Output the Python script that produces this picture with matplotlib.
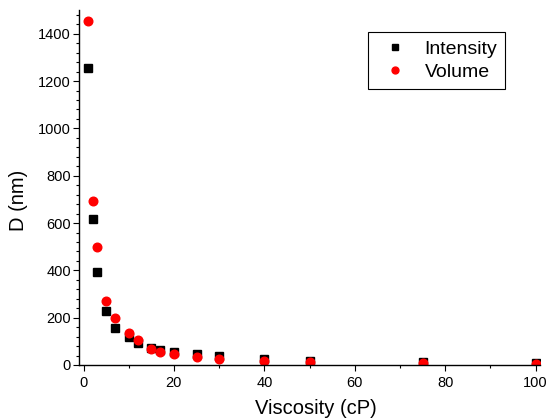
import matplotlib
matplotlib.use("Agg")
import matplotlib.pyplot as plt
from matplotlib.ticker import MultipleLocator

plt.rcParams["font.family"] = ["Liberation Sans", "DejaVu Sans"]
plt.rcParams["xtick.labelsize"] = 10.5
plt.rcParams["ytick.labelsize"] = 10.5

# hydrodynamic diameter vs solvent viscosity
viscosity = [1, 2, 3, 5, 7, 10, 12, 15, 17, 20, 25, 30, 40, 50, 75, 100]
d_intensity = [1256, 618, 392, 228, 158, 118, 94, 73, 65, 54, 47, 39, 24, 17, 13, 10]
d_volume = [1456, 693, 498, 269, 199, 137, 106, 66, 56, 47, 35, 27, 17, 13, 8, 4]

fig = plt.figure(figsize=(5.51, 4.18), dpi=100)
ax = fig.add_axes([0.1434, 0.1268, 0.8367, 0.849])

ax.plot(viscosity, d_intensity, "s", color="black", markersize=5.8,
        linestyle="none", label="Intensity")
ax.plot(viscosity, d_volume, "o", color="red", markersize=6.2,
        linestyle="none", label="Volume")

ax.set_xlim(-1, 101)
ax.set_ylim(0, 1500)
ax.xaxis.set_major_locator(MultipleLocator(20))
ax.xaxis.set_minor_locator(MultipleLocator(10))
ax.yaxis.set_major_locator(MultipleLocator(200))
ax.yaxis.set_minor_locator(MultipleLocator(40))

for side in ("top", "right"):
    ax.spines[side].set_visible(False)
for side in ("left", "bottom"):
    ax.spines[side].set_linewidth(1.0)

ax.tick_params(which="major", direction="out", length=4.3, width=0.8)
ax.tick_params(which="minor", direction="out", length=2.2, width=0.8)
ax.tick_params(axis="x", which="major", pad=3.5)
ax.tick_params(axis="y", which="major", pad=1.5)

ax.set_xlabel("Viscosity (cP)", fontsize=14.5)
ax.set_ylabel("D (nm)", fontsize=14.5)
ax.xaxis.set_label_coords(0.514, -0.097)
ax.yaxis.set_label_coords(-0.11, 0.465)

leg = ax.legend(loc="upper left", bbox_to_anchor=(0.627, 0.938),
                borderaxespad=0, fontsize=14, frameon=True, fancybox=False,
                framealpha=1, edgecolor="black", handletextpad=0.5,
                markerscale=0.8, borderpad=0.4, labelspacing=0.3)
leg.get_frame().set_linewidth(0.8)

fig.savefig("out.png", dpi=100)
